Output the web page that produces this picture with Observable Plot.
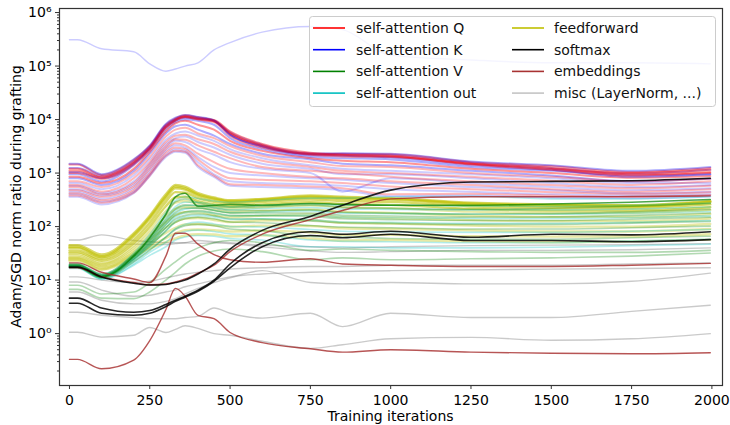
<!DOCTYPE html>
<html><head><meta charset="utf-8">
<script src="https://cdn.jsdelivr.net/npm/d3@7"></script>
<script src="https://cdn.jsdelivr.net/npm/@observablehq/plot@0.6"></script>
<style>
body{margin:0;background:#fff;}
#chart{width:730px;height:425px;}
</style></head><body><div id="chart"></div>
<script>
// Shared iteration grid (x values) for every series
const iters = [0, 25, 100, 200, 250, 300, 330, 360, 400, 450, 500, 600, 750, 850, 1000, 1250, 1500, 1750, 1995];

const attnQ = [
  [1450,1450,920,1750,3200,8000,10500,12000,11000,9500,5500,3300,2300,2300,2250,1600,1350,1050,1250],
  [1000,1000,780,1450,2800,7000,9500,11000,10000,9000,5000,3000,2200,2050,2000,1500,1250,950,1050],
  [850,850,650,1200,2500,6000,8500,9500,8000,6500,4000,2600,1900,1700,1600,1200,1000,820,880],
  [700,700,550,1000,2000,4800,6500,7000,5500,4500,3200,2100,1600,1350,1300,1000,850,700,780],
  [600,600,450,800,1600,3800,5000,5200,4300,3500,2500,1700,1300,1100,1000,850,720,600,700],
  [550,550,400,650,1400,3200,4300,4200,3300,2500,1900,1300,1100,1000,850,700,600,520,580],
  [480,480,360,560,1200,2800,3600,3300,2300,1600,1200,1000,850,800,700,600,500,450,500],
  [420,420,310,480,1000,2400,3000,2800,1800,1100,800,750,700,650,560,500,440,410,440],
  [380,380,280,430,900,2100,2600,2500,1400,900,620,600,560,520,400,410,380,360,390],
  [1200,1200,850,1600,3000,7500,10000,11500,10500,9800,6000,3500,2400,2200,2100,1500,1200,1000,1150],
  [1100,1100,820,1550,2900,7200,9800,11200,10200,9300,5600,3200,2250,2150,2050,1450,1150,900,1000]
];
const attnK = [
  [1250,1250,880,1650,3100,7800,10200,11500,10800,9600,5800,3400,2350,2250,2150,1550,1250,980,1150],
  [950,950,700,1400,2700,6500,9000,10000,9500,8000,4500,2800,2000,1900,1800,1300,1100,900,950],
  [800,800,600,1100,2300,5500,7500,8000,6500,5000,3500,2300,1800,1500,1400,1100,900,700,780],
  [650,650,500,900,1800,4200,5500,6000,5000,4000,2800,1900,1400,1200,1100,950,800,650,650],
  [580,580,420,700,1500,3500,4500,4800,3800,3000,2200,1500,1200,950,950,800,650,550,600],
  [500,500,380,600,1300,3000,4000,3800,2800,2200,1600,1200,1000,450,800,650,550,480,520],
  [450,450,330,520,1100,2600,3300,3000,2000,1300,1000,900,800,750,650,550,480,420,450],
  [400,400,290,450,950,2200,2800,2600,1600,950,700,650,620,580,500,450,400,380,400],
  [360,360,260,420,880,2000,2500,2400,1300,850,580,550,520,480,370,380,350,340,370],
  [1500,1500,950,1800,3300,8300,10800,12200,11200,9600,5300,3200,2300,2350,2300,1650,1400,1100,1300],
  [1050,1050,800,1500,2900,7300,9700,10800,10300,9400,5200,3100,2150,2100,1950,1400,1150,850,950]
];
const attnV = [
  [17.5,17.5,11.5,28,62,170,360,420,240,250,260,250,270,260,250,250,265,285,320],
  [19,19,12,30,65,165,290,330,280,240,230,235,250,230,220,210,220,240,270],
  [20,20,13,30,58,135,215,255,245,220,200,200,205,185,180,172,175,188,210],
  [19.5,19.5,12.5,28,54,120,185,220,222,200,180,180,180,162,158,150,152,162,180],
  [19,19,12,27,50,108,160,190,200,182,162,160,155,140,135,130,130,138,150],
  [18.5,18.5,11.6,25,46,95,138,162,172,160,140,138,128,118,114,110,110,116,125],
  [18,18,11.2,24,42,84,120,140,150,140,122,118,105,98,95,90,90,95,102],
  [17,17,10.8,22,36,64,88,104,110,104,90,84,66,64,60,58,58,62,66],
  [8,8,5.5,6,9,16,22,30,40,50,55,50,36,38,36,34,33,33,36],
  [6.7,6.7,4.6,4.5,6,10,14,20,28,35,38,34,24,26,24,25,26,28,32]
];
const attnOut = [
  [20,20,13,32,72,185,310,360,335,300,285,305,340,340,360,370,330,330,360],
  [19,19,12.5,29,60,145,235,285,285,255,235,250,265,250,250,240,240,250,275],
  [18.8,18.8,12.2,27,55,125,200,245,250,228,208,218,228,212,210,205,205,212,232],
  [18.5,18.5,12,26,50,108,172,212,222,202,182,188,195,178,175,170,170,178,192],
  [18.2,18.2,11.8,25,47,95,148,180,190,176,158,162,164,150,146,142,142,148,160],
  [18,18,11.5,24,44,82,126,152,162,152,136,140,135,122,120,115,115,120,130],
  [17.5,17.5,11,22,38,63,91,111,121,112,100,98,88,82,80,78,78,82,88],
  [17,17,10.6,20,33,51,71,81,86,81,73,70,56,53,52,50,50,54,58],
  [16.5,16.5,10.3,19,29,42,56,64,68,66,60,56,42,42,40,40,41,44,47]
];
const feedforward = [
  [45,45,30,75,160,400,600,560,420,350,310,330,380,360,340,280,260,250,300],
  [42,42,28,70,150,370,560,520,400,335,300,320,365,345,330,270,252,245,292],
  [40,40,27,65,140,340,520,490,380,320,290,310,350,330,320,260,245,240,285],
  [36,36,25,56,118,290,440,430,340,290,270,290,320,300,290,240,225,225,260],
  [33,33,23,49,100,240,350,360,300,260,240,260,285,265,255,215,200,200,230],
  [31,31,21,44,88,195,280,300,265,235,215,230,250,230,220,190,180,180,205],
  [29,29,20,40,76,155,215,235,225,205,185,195,210,190,180,160,152,152,172],
  [27,27,19,36,66,122,165,185,185,165,152,160,168,150,145,132,126,126,142],
  [26,26,18,33,56,96,122,142,145,133,122,130,132,118,114,105,100,100,112],
  [25,25,17,31,49,76,95,110,112,106,100,104,102,93,90,85,81,81,90],
  [24,24,16,29,43,61,75,86,88,86,81,84,78,70,70,66,65,66,72],
  [23,23,15.5,27,39,51,60,68,72,71,66,69,60,55,56,53,51,53,57]
];
const softmax = [
  [17.5,17.5,11.4,8.7,8.1,8.3,9,10,13,20,38,85,155,250,480,680,700,720,800],
  [4.6,4.6,3.0,2.5,2.7,3.5,4.2,5.0,6.5,10,20,50,80,72,82,63,72,70,80],
  [3.7,3.7,2.4,2.2,2.4,3.2,4.0,4.8,6.2,9.5,17,42,68,62,72,55,55,52,57]
];
const embeddings = [
  [0.33,0.33,0.22,0.32,0.74,2.8,7,5,2.2,1.9,1.05,0.68,0.52,0.45,0.5,0.45,0.43,0.42,0.44],
  [21,21,14,10.5,9,28,75,75,47,30,24,21.5,25,20,19,18,18,19,20.5],
  [17,17,11.6,9,8.2,8.5,9.2,10.5,13.5,19,34,72,135,200,330,360,360,365,375]
];
const miscTop = [310000,310000,210000,185000,110000,80000,88000,100000,115000,200000,275000,430000,550000,480000,160000,130000,115000,115000,110000];
const misc = [
  [56,56,70,55,52,50,50,50,48,50,48,42,35,33,34,36,36,37,40],
  [45,45,45,47,46,46,48,50,55,52,50,45,42,40,42,44,45,46,48],
  [11.5,11.5,10,9,9.5,11,12,13,14,15,16,17,18,18,19,19,19,20,21],
  [9.2,9.2,6.5,5,5.2,6,6.5,7.5,8.5,10,11.5,13,14,14.5,15,15.5,16,16.5,17],
  [6,6,4.2,3.6,3.6,4,4.5,5.5,7,9,11,15,9,8.5,9,8.5,8.5,9.5,13.5],
  [2.5,2.5,2.2,2.0,1.9,1.9,1.9,2.0,2.1,3.0,2.4,1.95,2.4,1.35,2.4,2.0,2.0,2.6,3.4],
  [1.06,1.06,0.86,0.93,1.3,1.05,1.2,1.4,1.25,1.0,0.93,0.72,0.53,0.62,0.8,0.85,0.75,0.8,1.0]
];

const legendLabels = ["self-attention Q","self-attention K","self-attention V","self-attention out","feedforward","softmax","embeddings","misc (LayerNorm, ...)"];
const legendColors = ["#ff0000","#0000ff","#008000","#00bfbf","#bfbf00","#000000","#a83232","#c4c4c4"];
const xTicks = [0,250,500,750,1000,1250,1500,1750,2000];
const yTicks = [1,10,100,1000,10000,100000,1000000];
const yTickLabels = ["10\u2070","10\u00b9","10\u00b2","10\u00b3","10\u2074","10\u2075","10\u2076"];

// minor ticks of the log axis
const yMinor = [];
for (let k = -1; k <= 5; k++) for (let m = 2; m <= 9; m++) yMinor.push(m * Math.pow(10, k));

const marks = [];
function addLine(vals, color, opacity, width) {
  const rows = iters.map((x, j) => ({x, y: vals[j]}));
  marks.push(Plot.line(rows, {x: "x", y: "y", stroke: color, strokeOpacity: opacity, strokeWidth: width, curve: "monotone-x"}));
}
misc.forEach(v => addLine(v, "#808080", 0.42, 1.4));
addLine(miscTop, "#0000ff", 0.2, 1.4);
// self-attention Q and K drawn interleaved (as layers are)
attnQ.forEach((v, i) => {
  const high = d3.max(v) > 9000;
  addLine(attnK[i], "#0000ff", high ? 0.32 : 0.2, 2);
  addLine(v, "#ff0000", high ? 0.42 : 0.28, 2);
});
feedforward.forEach(v => addLine(v, "#bfbf00", d3.max(v) > 300 ? 0.6 : 0.35, 2.4));
attnOut.forEach(v => addLine(v, "#00bfbf", 0.3, 1.6));
attnV.forEach(v => addLine(v, "#008000", d3.max(v) > 400 ? 0.7 : 0.3, 1.6));
embeddings.forEach(v => addLine(v, "#a52a2a", 0.8, 1.4));
softmax.forEach(v => addLine(v, "#000000", 0.85, 1.6));

const plot = Plot.plot({
  width: 730, height: 425,
  marginLeft: 59, marginRight: 8, marginTop: 8, marginBottom: 40,
  style: {fontFamily: "DejaVu Sans", fontSize: "14px", color: "black", background: "white"},
  x: {domain: [-31, 2033]},
  y: {type: "log", domain: [0.1072, 1.19e6]},
  marks: [
    ...marks,
    Plot.axisY({ticks: yMinor, tickSize: 2, tickFormat: () => "", label: null, stroke: "#333"}),
    Plot.axisY({ticks: yTicks, tickSize: 4, tickPadding: 4, tickFormat: d => yTickLabels[yTicks.indexOf(d)], label: null, stroke: "#333"}),
    Plot.axisX({ticks: xTicks, tickSize: 4, tickPadding: 6, tickFormat: d => String(d), label: null, stroke: "#333"}),
    Plot.frame({stroke: "#333", strokeWidth: 1.2})
  ]
});

const svg = d3.select(plot);
svg.selectAll("text").style("font-family", "'DejaVu Sans'").style("font-size", "14px").attr("fill", "black");
svg.append("text").attr("transform", "translate(21,196.5) rotate(-90)")
  .attr("text-anchor", "middle").style("font-family", "'DejaVu Sans'").style("font-size", "14px").attr("fill", "black")
  .text("Adam/SGD norm ratio during grafting");
svg.append("text").attr("x", 390.5).attr("y", 421)
  .attr("text-anchor", "middle").style("font-family", "'DejaVu Sans'").style("font-size", "14px").attr("fill", "black")
  .text("Training iterations");

const lg = svg.append("g").attr("text-anchor", "start");
lg.append("rect").attr("x", 309.5).attr("y", 16.5).attr("width", 406).attr("height", 90).attr("rx", 3)
  .attr("fill", "white").attr("fill-opacity", 0.8).attr("stroke", "#cccccc");
legendLabels.forEach((lab, i) => {
  const col = Math.floor(i / 4), row = i % 4;
  const hx = col === 0 ? 313 : 512;
  const tx = col === 0 ? 356 : 554;
  const yy = 28 + row * 21.7;
  lg.append("line").attr("x1", hx).attr("x2", hx + 32).attr("y1", yy).attr("y2", yy)
    .attr("stroke", legendColors[i]).attr("stroke-width", 1.6);
  lg.append("text").attr("x", tx).attr("y", yy).attr("dy", "0.36em").attr("text-anchor", "start")
    .style("font-family", "'DejaVu Sans'").style("font-size", "14px").attr("fill", "#111").text(lab);
});

document.getElementById("chart").appendChild(plot);
</script></body></html>
